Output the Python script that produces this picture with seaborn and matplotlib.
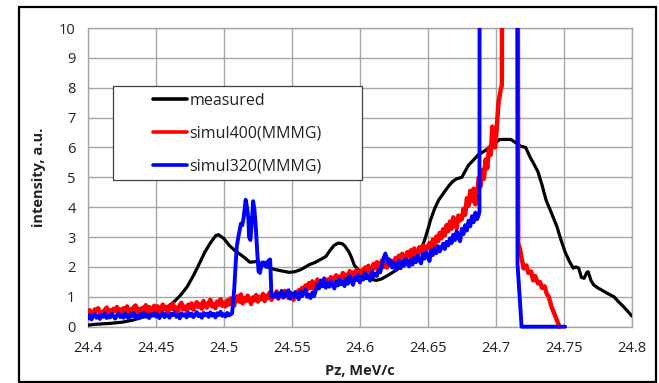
import numpy as np
import pandas as pd
import matplotlib
matplotlib.use("Agg")
import matplotlib.pyplot as plt
import seaborn as sns
from matplotlib.patches import Rectangle
from matplotlib.lines import Line2D

# ---------------- data ----------------
x_ticks = [24.4, 24.45, 24.5, 24.55, 24.6, 24.65, 24.7, 24.75, 24.8]
x_tick_labels = ["24.4", "24.45", "24.5", "24.55", "24.6", "24.65", "24.7", "24.75", "24.8"]
y_ticks = list(range(0, 11))

measured_x = [24.4, 24.405, 24.416, 24.425, 24.433, 24.441, 24.451, 24.458, 24.463, 24.468,
              24.473, 24.478, 24.482, 24.486, 24.49, 24.494, 24.496, 24.5, 24.504, 24.508,
              24.512, 24.515, 24.519, 24.524, 24.528, 24.532, 24.537, 24.541, 24.548, 24.552,
              24.556, 24.56, 24.563, 24.567, 24.571, 24.575, 24.578, 24.581, 24.584, 24.587,
              24.589, 24.592, 24.594, 24.596, 24.6, 24.606, 24.612, 24.616, 24.621, 24.627,
              24.633, 24.639, 24.643, 24.646, 24.648, 24.65, 24.652, 24.655, 24.658, 24.662,
              24.665, 24.668, 24.671, 24.675, 24.678, 24.68, 24.684, 24.687, 24.693, 24.698,
              24.703, 24.711, 24.714, 24.718, 24.722, 24.725, 24.728, 24.731, 24.734, 24.737,
              24.741, 24.745, 24.748, 24.751, 24.754, 24.757, 24.759, 24.761, 24.763, 24.765,
              24.767, 24.768, 24.77, 24.772, 24.775, 24.777, 24.782, 24.787, 24.79, 24.794,
              24.797, 24.8]
measured_y = [0.05, 0.08, 0.11, 0.15, 0.22, 0.33, 0.5, 0.65, 0.82, 1.05,
              1.34, 1.75, 2.12, 2.5, 2.8, 3.05, 3.08, 2.95, 2.72, 2.55,
              2.42, 2.32, 2.16, 2.18, 2.08, 2.0, 1.92, 1.88, 1.82, 1.84,
              1.9, 2.0, 2.08, 2.15, 2.25, 2.35, 2.55, 2.72, 2.8, 2.78,
              2.7, 2.5, 2.3, 2.05, 1.85, 1.62, 1.55, 1.6, 1.73, 1.9,
              2.1, 2.3, 2.46, 2.7, 2.95, 3.25, 3.57, 3.95, 4.24, 4.5,
              4.69, 4.85, 4.95, 5.0, 5.25, 5.41, 5.6, 5.75, 5.92, 6.1,
              6.27, 6.27, 6.18, 6.05, 6.0, 5.7, 5.45, 5.19, 4.75, 4.24,
              3.8, 3.35, 2.9, 2.5, 2.2, 1.96, 2.0, 1.96, 1.65, 1.62,
              1.82, 1.84, 1.55, 1.4, 1.3, 1.25, 1.12, 1.0, 0.85, 0.67,
              0.52, 0.36]

# simul400: regular samples (step 0.00125 from 24.4) followed by the peak / tail
red_start = 24.4
red_step = 0.00125
red_noisy_y = [
    0.40, 0.55, 0.47, 0.36, 0.58, 0.52, 0.62, 0.44, 0.50, 0.39, 0.57, 0.64, 0.48, 0.55, 0.42, 0.60, 0.53, 0.66, 0.45, 0.58,
    0.47, 0.62, 0.55, 0.68, 0.44, 0.58, 0.50, 0.66, 0.71, 0.52, 0.60, 0.46, 0.63, 0.57, 0.72, 0.51, 0.66, 0.49, 0.61, 0.70,
    0.55, 0.68, 0.50, 0.62, 0.74, 0.58, 0.66, 0.48, 0.70, 0.60, 0.77, 0.56, 0.64, 0.52, 0.72, 0.80, 0.58, 0.67, 0.55, 0.74,
    0.62, 0.78, 0.57, 0.70, 0.82, 0.66, 0.75, 0.60, 0.86, 0.70, 0.64, 0.80, 0.90, 0.68, 0.76, 0.62, 0.84, 0.74, 0.92, 0.70,
    0.80, 0.68, 0.88, 0.74, 0.95, 0.82, 0.70, 0.92, 1.02, 0.84, 1.08, 0.78, 0.96, 0.86, 1.04, 0.90, 0.76, 0.98, 0.88, 1.06,
    0.84, 1.00, 0.92, 1.10, 0.86, 1.04, 0.96, 1.15, 0.90, 1.08, 1.00, 1.18, 0.94, 1.06, 1.12, 0.98, 1.20, 1.04, 0.96, 1.14,
    1.02, 0.90, 1.14, 1.00, 1.22, 1.10, 1.30, 1.16, 1.38, 1.24, 1.46, 1.30, 1.52, 1.26, 1.40, 1.58, 1.34, 1.48, 1.36, 1.55,
    1.40, 1.58, 1.46, 1.66, 1.38, 1.60, 1.72, 1.52, 1.68, 1.58, 1.80, 1.62, 1.74, 1.56, 1.86, 1.70, 1.82, 1.64, 1.90, 1.76,
    1.68, 1.88, 1.76, 1.98, 1.82, 2.04, 1.90, 1.78, 2.10, 1.96, 2.16, 1.92, 2.06, 2.22, 2.00, 2.14, 1.98, 2.26, 2.08, 2.20,
    2.10, 2.30, 2.16, 2.38, 2.22, 2.44, 2.26, 2.18, 2.50, 2.36, 2.56, 2.40, 2.62, 2.44, 2.34, 2.66, 2.50, 2.72, 2.54, 2.68,
    2.62, 2.80, 2.66, 2.92, 2.74, 3.02, 2.86, 3.14, 2.96, 3.26, 3.06, 3.40, 3.20, 3.52, 3.28, 3.66, 3.42, 3.30, 3.72, 3.56,
    3.60, 3.95, 3.75, 4.30, 4.05, 4.55, 4.20, 4.62, 4.10, 4.40, 5.00, 4.70, 5.25, 4.95, 5.60, 5.30, 6.00, 5.75, 6.70, 6.20,
]
red_tail_x = [24.6995, 24.7005, 24.702, 24.7035, 24.7045, 24.7055, 24.7155,
              24.7165, 24.7178, 24.719, 24.7205, 24.7225, 24.724, 24.726, 24.7275, 24.729,
              24.731, 24.7325, 24.734, 24.736, 24.7375, 24.739, 24.741, 24.744, 24.7468]
red_tail_y = [6.0, 6.5, 7.5, 7.9, 8.1, 40.0, 40.0,
              2.8, 2.6, 2.3, 1.95, 2.05, 1.8, 1.85, 1.55, 1.7,
              1.45, 1.5, 1.3, 1.35, 1.1, 1.0, 0.67, 0.33, 0.0]

# simul320: low part (step 0.00125 from 24.4), peak pair, middle part, tall peak
blue_low_y = [
    0.28, 0.38, 0.24, 0.34, 0.42, 0.30, 0.36, 0.26, 0.40, 0.33, 0.44, 0.29, 0.37, 0.31, 0.43, 0.35, 0.27, 0.39, 0.45, 0.32,
    0.38, 0.30, 0.44, 0.34, 0.27, 0.41, 0.36, 0.46, 0.31, 0.39, 0.28, 0.43, 0.35, 0.47, 0.33, 0.40, 0.29, 0.42, 0.37, 0.45,
    0.34, 0.41, 0.29, 0.38, 0.46, 0.32, 0.43, 0.36, 0.30, 0.44, 0.39, 0.48, 0.33, 0.40, 0.28, 0.45, 0.37, 0.42, 0.31, 0.47,
    0.36, 0.44, 0.32, 0.40, 0.49, 0.35, 0.42, 0.30, 0.46, 0.38, 0.44, 0.33, 0.48, 0.37, 0.43, 0.31, 0.45, 0.39, 0.50, 0.36,
    0.42, 0.34, 0.46, 0.38,
]
blue_peak_x = [24.5045, 24.506, 24.5075, 24.5085, 24.5095, 24.511, 24.5125, 24.5135, 24.5145,
               24.516, 24.517, 24.518, 24.5185, 24.5195, 24.5205, 24.5215, 24.5225, 24.5235,
               24.5245, 24.5255, 24.5265, 24.528, 24.5295, 24.531, 24.5325, 24.534, 24.5345,
               24.535]
blue_peak_y = [0.40, 0.45, 1.2, 2.0, 2.7, 3.1, 3.45, 3.4, 3.65,
               4.25, 4.0, 3.6, 3.0, 2.9, 3.5, 4.2, 3.9, 3.3,
               2.5, 1.85, 1.8, 2.15, 2.15, 2.0, 2.2, 2.25, 1.6,
               1.0]
blue_mid_start = 24.5375
blue_mid_y = [
    1.02, 1.14, 0.96, 1.08, 1.20, 0.98, 1.12, 1.04, 1.22, 0.94, 1.10, 1.00, 1.16, 1.06, 0.92, 1.18, 1.02, 1.12, 1.24, 1.00,
    1.08, 0.96, 1.14, 1.02, 1.20, 1.40, 1.28, 1.55, 1.36, 1.62, 1.30, 1.46, 1.34, 1.52, 1.40, 1.28, 1.50, 1.38, 1.58, 1.42,
    1.50, 1.36, 1.60, 1.44, 1.70, 1.52, 1.40, 1.64, 1.56, 1.74, 1.48, 1.66, 1.58, 1.80, 1.62, 1.72, 1.54, 1.84, 1.68, 1.78,
    1.70, 1.90, 1.82, 2.05, 2.30, 2.45, 2.28, 2.10, 2.22, 1.98, 2.14, 1.92, 2.08, 2.20, 1.96, 2.16, 2.04, 2.26, 2.10, 2.02,
    2.24, 2.08, 2.30, 2.16, 2.38, 2.22, 2.12, 2.42, 2.28, 2.50, 2.34, 2.20, 2.56, 2.40, 2.62, 2.46, 2.70, 2.52, 2.64, 2.78,
    2.60, 2.84, 2.72, 2.96, 2.80, 3.08, 2.90, 3.20, 3.00, 2.86, 3.28, 3.10, 3.40, 3.22, 3.55, 3.36, 3.70, 3.50, 3.82, 3.60,
    3.75,
]
blue_tail_x = [24.688, 24.6885, 24.7155, 24.716, 24.719, 24.751]
blue_tail_y = [3.85, 40.0, 40.0, 2.1, 0.0, 0.0]

series_names = ["measured", "simul400(MMMG)", "simul320(MMMG)"]
series_colors = ["#000000", "#ff0000", "#0000ff"]

# ---------------- assemble ----------------
red_x = list(np.round(red_start + red_step * np.arange(len(red_noisy_y)), 6)) + red_tail_x
red_y = red_noisy_y + red_tail_y
blue_x = (list(np.round(24.4 + 0.00125 * np.arange(len(blue_low_y)), 6)) + blue_peak_x
          + list(np.round(blue_mid_start + 0.00125 * np.arange(len(blue_mid_y)), 6)) + blue_tail_x)
blue_y = blue_low_y + blue_peak_y + blue_mid_y + blue_tail_y

df = pd.concat([
    pd.DataFrame({"x": measured_x, "y": measured_y, "s": series_names[0]}),
    pd.DataFrame({"x": red_x, "y": red_y, "s": series_names[1]}),
    pd.DataFrame({"x": blue_x, "y": blue_y, "s": series_names[2]}),
], ignore_index=True)

# ---------------- plot ----------------
sns.set_theme(style="whitegrid")
plt.rcParams["font.family"] = ["Open Sans", "DejaVu Sans"]

fig = plt.figure(figsize=(6.59, 3.83), dpi=100)
ax = fig.add_axes([88 / 659, 1 - 326.7 / 383, 543.7 / 659, 298.7 / 383])

grid_c = "#a6a6a6"
txt_c = "#222222"
widths = {series_names[0]: 2.3, series_names[1]: 3.2, series_names[2]: 2.8}
order_z = {series_names[0]: 3, series_names[1]: 4, series_names[2]: 5}
for name, col in zip(series_names, series_colors):
    sub = df[df["s"] == name]
    sns.lineplot(data=sub, x="x", y="y", ax=ax, color=col, lw=widths[name],
                 estimator=None, sort=False, legend=False, zorder=order_z[name])

ax.set_xlim(24.4, 24.8)
ax.set_ylim(0, 10)
ax.set_xticks(x_ticks)
ax.set_xticklabels(x_tick_labels)
ax.set_yticks(y_ticks)

# clip lines slightly below the bottom so the zero level stays full width
clip_rect = Rectangle((0, -0.01), 1, 1.01, transform=ax.transAxes, visible=False)
ax.add_patch(clip_rect)
for ln in ax.lines:
    ln.set_clip_path(clip_rect)

ax.grid(True, color=grid_c, lw=1.0)
ax.set_axisbelow(True)
for sp in ax.spines.values():
    sp.set_color(grid_c)
    sp.set_linewidth(1.0)
ax.tick_params(axis="both", which="major", length=4, width=1.0, color=grid_c,
               direction="out", labelsize=10.5, labelcolor=txt_c)
ax.tick_params(axis="x", pad=6)
ax.tick_params(axis="y", pad=5)

ax.set_xlabel("Pz, MeV/c", fontsize=10.5, fontweight="bold", color=txt_c, labelpad=6)
ax.set_ylabel("intensity, a.u.", fontsize=10.5, fontweight="bold", color=txt_c, labelpad=9)

# legend box
box = Rectangle(((113 - 88) / 543.7, (326.7 - 180) / 298.7), (362 - 113) / 543.7, 94 / 298.7,
                transform=ax.transAxes, facecolor="white", edgecolor="#404040", lw=0.9, zorder=6)
ax.add_patch(box)
handles = [Line2D([], [], color=c, lw=2.6) for c in series_colors]
leg = ax.legend(handles, series_names, loc="upper left",
                bbox_to_anchor=((153 - 88) / 543.7, (326.7 - 93) / 298.7),
                frameon=False, fontsize=11.5, handlelength=2.1, handletextpad=0.2,
                labelspacing=1.05, borderpad=0, borderaxespad=0)
leg.set_zorder(7)
for t in leg.get_texts():
    t.set_color(txt_c)

# outer frame of the chart
fig.patches.append(Rectangle((19 / 659, 1 - 382 / 383), 637 / 659, 375 / 383,
                             transform=fig.transFigure, fill=False, edgecolor="black", lw=1.6))

fig.savefig("out.png", dpi=100)
